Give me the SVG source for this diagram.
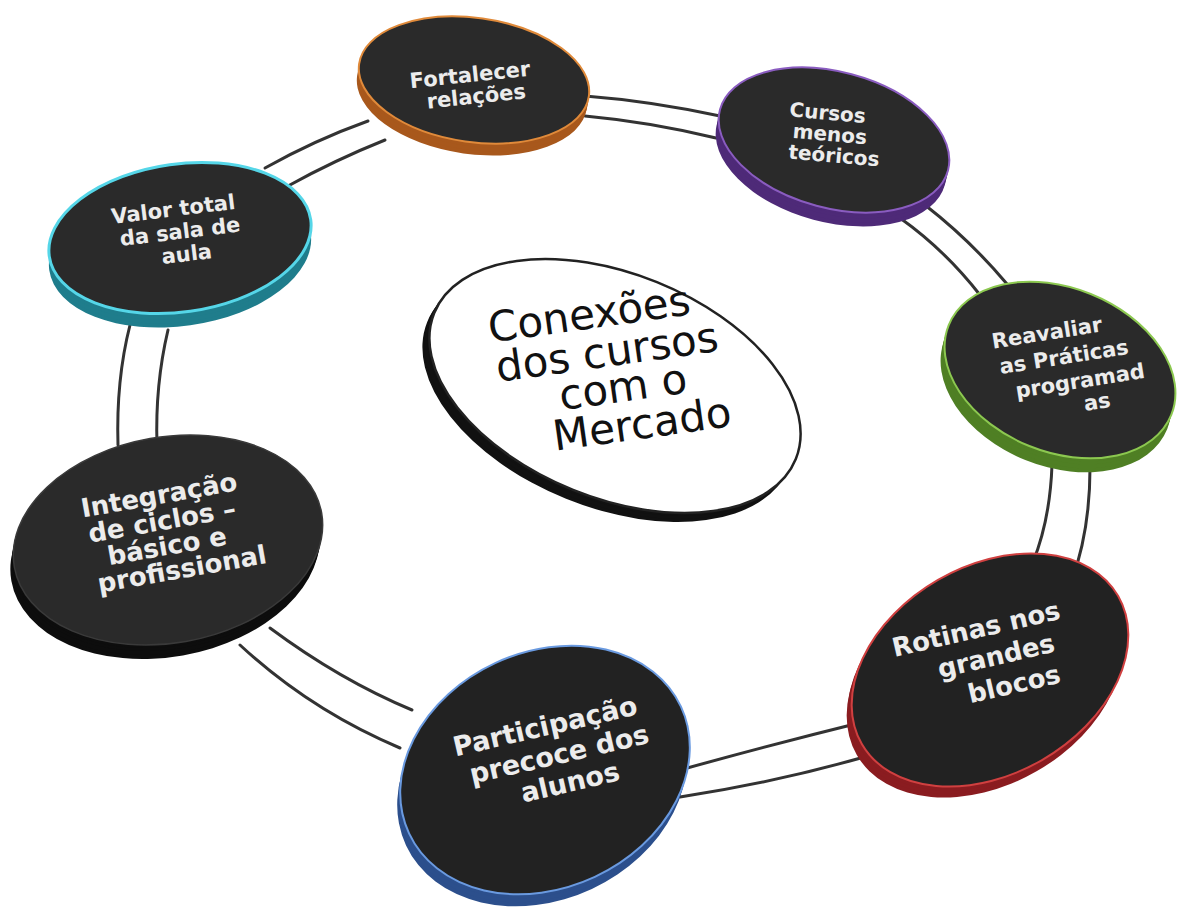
<svg xmlns="http://www.w3.org/2000/svg" width="1178" height="910" viewBox="0 0 1178 910">
<style>
.ring{fill:none;stroke:#333;stroke-width:3;stroke-linecap:round}
.face{fill:#2a2a2a}
.lbl{font-family:"DejaVu Sans","Liberation Sans",sans-serif;font-weight:bold;fill:#ececec;text-anchor:middle;dominant-baseline:central}
.ctr{font-family:"DejaVu Sans","Liberation Sans",sans-serif;fill:#111;text-anchor:middle;dominant-baseline:central;font-size:42px}
</style>
<rect width="1178" height="910" fill="#fff"/>
<g id="connectors">
<path class="ring" d="M130,325 Q116,380 118,445"/>
<path class="ring" d="M168,330 Q155,385 157,445"/>
<path class="ring" d="M265,168 Q315,140 368,121"/>
<path class="ring" d="M288,186 Q335,160 385,140"/>
<path class="ring" d="M585,96 Q650,101 720,116"/>
<path class="ring" d="M585,116 Q650,122 716,138"/>
<path class="ring" d="M900,218 Q945,250 980,295"/>
<path class="ring" d="M925,205 Q970,240 1007,284"/>
<path class="ring" d="M1052,465 Q1050,520 1033,562"/>
<path class="ring" d="M1090,468 Q1090,530 1072,580"/>
<path class="ring" d="M863,722 Q770,745 680,770"/>
<path class="ring" d="M888,750 Q790,780 680,797"/>
<path class="ring" d="M270,628 Q340,680 412,710"/>
<path class="ring" d="M240,645 Q310,710 400,748"/>
</g>

<g id="n-fortalecer">
<g fill="#a8581c">
<ellipse cx="472" cy="92" rx="116" ry="62" transform="rotate(8 472 92)"/>
<ellipse cx="473" cy="88" rx="116" ry="62" transform="rotate(8 473 88)"/>
<ellipse cx="473" cy="84" rx="116" ry="62" transform="rotate(8 473 84)"/>
</g>
<ellipse class="face" cx="474" cy="80" rx="116" ry="62" transform="rotate(8 474 80)" stroke="#e08a3a" stroke-width="2"/>
<text class="lbl" font-size="21" transform="rotate(-6 470 76)"><tspan x="470" y="75">Fortalecer</tspan><tspan x="474" y="97">relações</tspan></text>
</g>

<g id="n-cursos">
<g fill="#4e2a78">
<ellipse cx="831" cy="154" rx="118" ry="68" transform="rotate(15 831 154)"/>
<ellipse cx="832" cy="150" rx="118" ry="68" transform="rotate(15 832 150)"/>
<ellipse cx="833" cy="146" rx="118" ry="68" transform="rotate(15 833 146)"/>
<ellipse cx="833" cy="143" rx="118" ry="68" transform="rotate(15 833 143)"/>
</g>
<ellipse class="face" cx="834" cy="140" rx="118" ry="68" transform="rotate(15 834 140)" stroke="#8a5cc0" stroke-width="2"/>
<text class="lbl" font-size="20" transform="rotate(5 830 133)"><tspan x="826" y="113">Cursos</tspan><tspan x="830" y="134">menos</tspan><tspan x="836" y="155">teóricos</tspan></text>
</g>

<g id="n-valor">
<g fill="#1f7d8c">
<ellipse cx="180" cy="252" rx="132" ry="74" transform="rotate(-8 180 252)"/>
<ellipse cx="180" cy="248" rx="132" ry="74" transform="rotate(-8 180 248)"/>
<ellipse cx="180" cy="244" rx="132" ry="74" transform="rotate(-8 180 244)"/>
<ellipse cx="180" cy="241" rx="132" ry="74" transform="rotate(-8 180 241)"/>
</g>
<ellipse class="face" cx="180" cy="238" rx="132" ry="74" transform="rotate(-8 180 238)" stroke="#55d6e8" stroke-width="3"/>
<text class="lbl" font-size="21" transform="rotate(-7 178 232)"><tspan x="176" y="209">Valor total</tspan><tspan x="180" y="232">da sala de</tspan><tspan x="184" y="255">aula</tspan></text>
</g>

<g id="n-reavaliar">
<g fill="#4f7f24">
<ellipse cx="1056" cy="384" rx="120" ry="82" transform="rotate(22 1056 384)"/>
<ellipse cx="1057" cy="380" rx="120" ry="82" transform="rotate(22 1057 380)"/>
<ellipse cx="1058" cy="376" rx="120" ry="82" transform="rotate(22 1058 376)"/>
<ellipse cx="1059" cy="373" rx="120" ry="82" transform="rotate(22 1059 373)"/>
</g>
<ellipse class="face" cx="1060" cy="370" rx="120" ry="82" transform="rotate(22 1060 370)" stroke="#8cc850" stroke-width="2"/>
<g class="lbl" font-size="21">
<text x="1047" y="333" transform="rotate(-9 1047 333)">Reavaliar</text>
<text x="1064" y="357" transform="rotate(-9 1064 357)">as Práticas</text>
<text x="1080" y="381" transform="rotate(-9 1080 381)">programad</text>
<text x="1097" y="402" transform="rotate(-9 1097 402)">as</text>
</g>
</g>

<g id="n-integracao">
<g fill="#0d0d0d">
<ellipse cx="165" cy="554" rx="156" ry="103" transform="rotate(-10 165 554)"/>
<ellipse cx="166" cy="550" rx="156" ry="103" transform="rotate(-10 166 550)"/>
<ellipse cx="167" cy="546" rx="156" ry="103" transform="rotate(-10 167 546)"/>
<ellipse cx="167" cy="543" rx="156" ry="103" transform="rotate(-10 167 543)"/>
</g>
<ellipse class="face" cx="168" cy="540" rx="156" ry="103" transform="rotate(-10 168 540)" stroke="#3a3a3a" stroke-width="1.5"/>
<g class="lbl" font-size="26">
<text x="159" y="495" transform="rotate(-10 159 495)">Integração</text>
<text x="162" y="521" transform="rotate(-10 162 521)">de ciclos –</text>
<text x="167" y="546" transform="rotate(-10 167 546)">básico e</text>
<text x="182" y="569" transform="rotate(-10 182 569)">profissional</text>
</g>
</g>

<g id="n-rotinas">
<g fill="#8a1c20">
<ellipse cx="985" cy="681" rx="148" ry="104" transform="rotate(-30 985 681)"/>
<ellipse cx="986" cy="677" rx="148" ry="104" transform="rotate(-30 986 677)"/>
<ellipse cx="988" cy="674" rx="148" ry="104" transform="rotate(-30 988 674)"/>
</g>
<ellipse cx="990" cy="670" rx="148" ry="104" transform="rotate(-30 990 670)" fill="#222" stroke="#d04040" stroke-width="2"/>
<g class="lbl" font-size="26">
<text x="976" y="629" transform="rotate(-13 976 629)">Rotinas nos</text>
<text x="996" y="656" transform="rotate(-13 996 656)">grandes</text>
<text x="1014" y="684" transform="rotate(-13 1014 684)">blocos</text>
</g>
</g>

<g id="n-participacao">
<g fill="#2c4f8c">
<ellipse cx="542" cy="782" rx="150" ry="118" transform="rotate(-25 542 782)"/>
<ellipse cx="543" cy="778" rx="150" ry="118" transform="rotate(-25 543 778)"/>
<ellipse cx="544" cy="774" rx="150" ry="118" transform="rotate(-25 544 774)"/>
</g>
<ellipse cx="545" cy="770" rx="150" ry="118" transform="rotate(-25 545 770)" fill="#222" stroke="#6a9ae0" stroke-width="2"/>
<g class="lbl" font-size="27">
<text x="545" y="726" transform="rotate(-13 545 726)">Participação</text>
<text x="559" y="754" transform="rotate(-13 559 754)">precoce dos</text>
<text x="570" y="782" transform="rotate(-13 570 782)">alunos</text>
</g>
</g>

<g id="n-centro">
<g fill="#111">
<ellipse cx="608" cy="395" rx="195" ry="112" transform="rotate(22 608 395)"/>
<ellipse cx="610" cy="392" rx="195" ry="112" transform="rotate(22 610 392)"/>
<ellipse cx="613" cy="389" rx="195" ry="112" transform="rotate(22 613 389)"/>
</g>
<ellipse cx="615" cy="386" rx="195" ry="112" transform="rotate(22 615 386)" fill="#fff" stroke="#222" stroke-width="2.5"/>
<g class="ctr">
<text x="589" y="314" transform="rotate(-8 589 314)">Conexões</text>
<text x="607" y="352" transform="rotate(-8 607 352)">dos cursos</text>
<text x="623" y="387" transform="rotate(-8 623 387)">com o</text>
<text x="642" y="424" transform="rotate(-8 642 424)">Mercado</text>
</g>
</g>
</svg>
